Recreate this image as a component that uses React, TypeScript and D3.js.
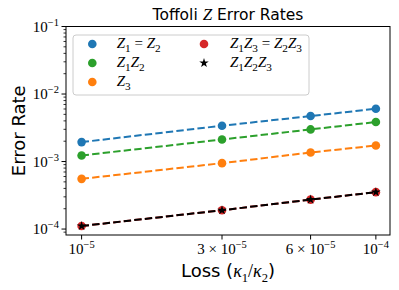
import React, { useEffect, useRef } from 'react';
import * as d3 from 'd3';

// loss values (kappa1/kappa2)
const losses = [1e-5, 3e-5, 6e-5, 1e-4];
const xTickLabels = ['10^-5', '3 × 10^-5', '6 × 10^-5', '10^-4'];

// error rates
const z1EqZ2 = [1.94e-3, 3.39e-3, 4.72e-3, 6.05e-3];
const z1z2 = [1.23e-3, 2.12e-3, 2.99e-3, 3.85e-3];
const z3 = [5.54e-4, 9.47e-4, 1.36e-3, 1.73e-3];
const z1z3EqZ2z3 = [1.11e-4, 1.9e-4, 2.73e-4, 3.52e-4];
const z1z2z3 = [1.11e-4, 1.9e-4, 2.73e-4, 3.52e-4];

const yTicks = [1e-4, 1e-3, 1e-2, 1e-1];

type Part = { t: string; it?: boolean; sub?: boolean };
type Series = { name: Part[]; values: number[]; color: string; marker: 'circle' | 'star' };

const Z = (n?: string): Part[] => (n ? [{ t: 'Z', it: true }, { t: n, sub: true }] : [{ t: 'Z', it: true }]);

const series: Series[] = [
  { name: [...Z('1'), { t: ' = ' }, ...Z('2')], values: z1EqZ2, color: '#1f77b4', marker: 'circle' },
  { name: [...Z('1'), ...Z('2')], values: z1z2, color: '#2ca02c', marker: 'circle' },
  { name: [...Z('3')], values: z3, color: '#ff7f0e', marker: 'circle' },
  { name: [...Z('1'), ...Z('3'), { t: ' = ' }, ...Z('2'), ...Z('3')], values: z1z3EqZ2z3, color: '#d62728', marker: 'circle' },
  { name: [...Z('1'), ...Z('2'), ...Z('3')], values: z1z2z3, color: '#000000', marker: 'star' },
];

const W = 399;
const H = 290;
const left = 66, right = 390, top = 26.5, bottom = 235;
const SERIF = "'Liberation Serif', 'DejaVu Serif', serif";
const SANS = "'DejaVu Sans', sans-serif";

// writes parts into a text selection with tspans
function mathText(sel: any, parts: Part[], size: number) {
  let shifted = 0;
  parts.forEach(p => {
    const ts = sel.append('tspan').text(p.t).attr('font-family', SERIF).style('white-space', 'pre');
    if (p.it) ts.attr('font-style', 'italic');
    if (p.sub) {
      ts.attr('dy', size * 0.25 - shifted).attr('font-size', size * 0.75);
      shifted = size * 0.25;
    } else if (shifted) {
      ts.attr('dy', -shifted);
      shifted = 0;
    }
  });
}

function powerLabel(sel: any, label: string, size: number) {
  const [base, exp] = label.split('^');
  sel.append('tspan').text(base).attr('font-family', SERIF).style('white-space', 'pre');
  sel.append('tspan').text(exp.replace('-', '−')).attr('font-family', SERIF)
    .attr('font-size', size * 0.7).attr('dy', -size * 0.4);
}

export default function App() {
  const ref = useRef<SVGSVGElement>(null);

  useEffect(() => {
    const svg = d3.select(ref.current);
    svg.selectAll('*').remove();

    const x = d3.scaleLog().domain([10 ** -5.053, 10 ** -3.952]).range([left, right]);
    const y = d3.scaleLog().domain([10 ** -4.088, 0.1]).range([bottom, top]);

    // title
    const title = svg.append('text').attr('x', 228).attr('y', 20).attr('text-anchor', 'middle')
      .attr('font-family', SANS).attr('font-size', 15.5);
    title.append('tspan').text('Toffoli ').style('white-space', 'pre');
    title.append('tspan').text('Z').attr('font-family', SERIF).attr('font-style', 'italic').attr('font-size', 17);
    title.append('tspan').text(' Error Rates').style('white-space', 'pre');

    // y minor ticks
    const [y0, y1] = y.domain();
    const minor: number[] = [];
    for (let e = -5; e <= -1; e++) {
      for (let k = 2; k <= 9; k++) {
        const v = k * 10 ** e;
        if (v >= y0 && v <= y1) minor.push(v);
      }
    }
    svg.append('g').selectAll('line').data(minor).join('line')
      .attr('x1', left).attr('x2', left - 2.5).attr('y1', d => y(d)).attr('y2', d => y(d))
      .attr('stroke', '#000').attr('stroke-width', 0.8);
    svg.append('g').selectAll('line').data(yTicks).join('line')
      .attr('x1', left).attr('x2', left - 4.5).attr('y1', d => y(d)).attr('y2', d => y(d))
      .attr('stroke', '#000').attr('stroke-width', 1);
    yTicks.forEach(v => {
      const t = svg.append('text').attr('x', left - 7).attr('y', y(v) + 5).attr('text-anchor', 'end')
        .attr('font-size', 15);
      powerLabel(t, '10^' + Math.round(Math.log10(v)), 15);
    });

    // x ticks
    svg.append('g').selectAll('line').data(losses).join('line')
      .attr('x1', d => x(d)).attr('x2', d => x(d)).attr('y1', bottom).attr('y2', bottom + 4.5)
      .attr('stroke', '#000').attr('stroke-width', 1);
    losses.forEach((v, i) => {
      const t = svg.append('text').attr('x', x(v)).attr('y', 254).attr('text-anchor', 'middle')
        .attr('font-size', 15);
      powerLabel(t, xTickLabels[i], 15);
    });

    // axis labels
    svg.append('text').attr('transform', `translate(25,${(top + bottom) / 2}) rotate(-90)`)
      .attr('text-anchor', 'middle').attr('font-family', SANS).attr('font-size', 18).text('Error Rate');
    const xl = svg.append('text').attr('x', 228).attr('y', 277).attr('text-anchor', 'middle')
      .attr('font-family', SANS).attr('font-size', 18);
    xl.append('tspan').text('Loss (').style('white-space', 'pre');
    xl.append('tspan').text('κ').attr('font-family', SERIF).attr('font-style', 'italic');
    xl.append('tspan').text('1').attr('font-family', SERIF).attr('font-size', 12.6).attr('dy', 4.5);
    xl.append('tspan').text('/').attr('font-family', SERIF).attr('dy', -4.5);
    xl.append('tspan').text('κ').attr('font-family', SERIF).attr('font-style', 'italic');
    xl.append('tspan').text('2').attr('font-family', SERIF).attr('font-size', 12.6).attr('dy', 4.5);
    xl.append('tspan').text(')').attr('dy', -4.5);

    // plot area
    const plot = svg.append('g');
    const line = d3.line<number>().x((_, i) => x(losses[i])).y(d => y(d));
    const star = d3.symbol().type(d3.symbolStar).size(28);

    series.forEach(s => {
      plot.append('path').attr('d', line(s.values)).attr('fill', 'none').attr('stroke', s.color)
        .attr('stroke-width', 2).attr('stroke-dasharray', '7.4,3.2');
      if (s.marker === 'circle') {
        plot.selectAll(null).data(s.values).join('circle')
          .attr('cx', (_, i) => x(losses[i])).attr('cy', d => y(d)).attr('r', 4.3).attr('fill', s.color);
      } else {
        plot.selectAll(null).data(s.values).join('path')
          .attr('d', star).attr('transform', (d, i) => `translate(${x(losses[i])},${y(d)})`).attr('fill', s.color);
      }
    });

    // frame
    svg.append('rect').attr('x', left).attr('y', top).attr('width', right - left).attr('height', bottom - top)
      .attr('fill', 'none').attr('stroke', '#000').attr('stroke-width', 1);

    // legend
    const lg = svg.append('g');
    lg.append('rect').attr('x', 73).attr('y', 35).attr('width', 236).attr('height', 60).attr('rx', 3)
      .attr('fill', 'rgba(255,255,255,0.8)').attr('stroke', '#cccccc').attr('stroke-width', 1);
    const rowY = [44, 63, 82];
    series.forEach((s, i) => {
      const col = i < 3 ? 0 : 1;
      const row = i < 3 ? i : i - 3;
      const mx = col === 0 ? 92.3 : 204;
      const tx = col === 0 ? 116.7 : 230;
      const cy = rowY[row];
      if (s.marker === 'circle') {
        lg.append('circle').attr('cx', mx).attr('cy', cy).attr('r', 4.3).attr('fill', s.color);
      } else {
        lg.append('path').attr('d', star).attr('transform', `translate(${mx},${cy})`).attr('fill', s.color);
      }
      const t = lg.append('text').attr('x', tx).attr('y', cy + 4).attr('font-size', 15);
      mathText(t, s.name, 15);
    });
  }, []);

  return (
    <svg ref={ref} width={W} height={H}
      style={{ position: 'absolute', left: 0, top: 0, background: '#fff', display: 'block' }} />
  );
}
